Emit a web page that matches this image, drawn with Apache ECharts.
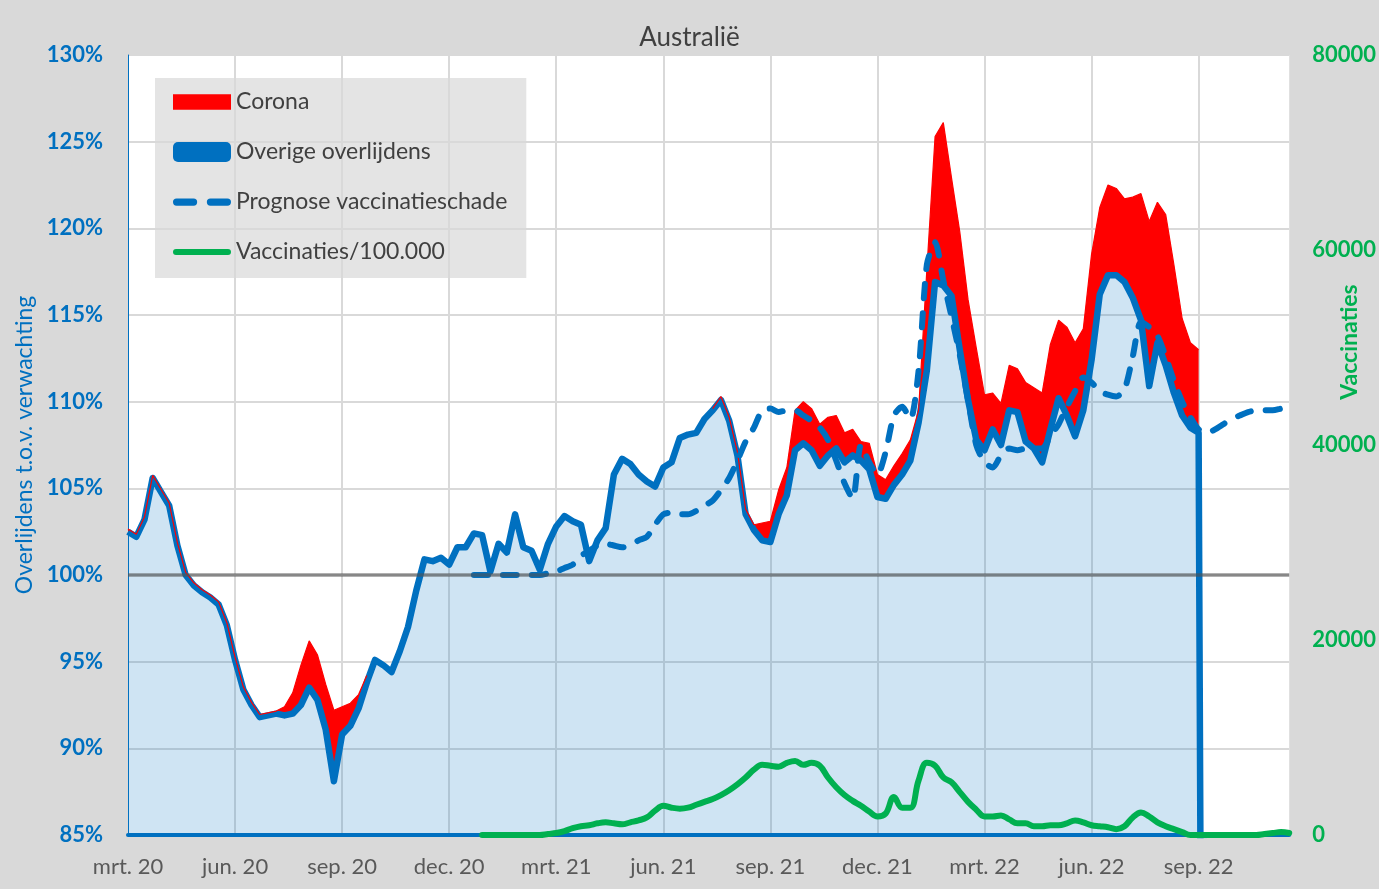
<!DOCTYPE html>
<html><head><meta charset="utf-8">
<script src="https://cdn.jsdelivr.net/npm/echarts@6/dist/echarts.min.js"></script>
<style>html,body{margin:0;padding:0;background:#d9d9d9}#c{width:1379px;height:889px}</style>
</head><body><div id="c"></div>
<script>
// X tick labels (one every 13 weeks, starting at week 0 = begin maart 2020)
const tickLabels = ['mrt. 20','jun. 20','sep. 20','dec. 20','mrt. 21','jun. 21','sep. 21','dec. 21','mrt. 22','jun. 22','sep. 22'];
const nWeeks = 142;
const weeks = Array.from({length: nWeeks}, (_, i) => 'week ' + i);

// Overige overlijdens (% t.o.v. verwachting), weekly from week 0
const overigeStart = 0;
const overige = [
 102.5,102.2,103.2,105.6,104.8,104.0,101.7,100.0,99.4,99.0,
 98.7,98.3,97.1,95.1,93.4,92.5,91.8,91.9,92.0,91.9,
 92.0,92.5,93.5,92.8,91.1,88.1,90.8,91.3,92.3,93.8,
 95.1,94.8,94.4,95.6,97.0,99.1,100.9,100.8,101.0,100.6,
 101.6,101.6,102.4,102.3,100.2,101.8,101.3,103.5,101.6,101.4,
 100.3,101.8,102.8,103.4,103.1,102.9,100.8,102.0,102.7,105.8,
 106.7,106.4,105.8,105.4,105.1,106.2,106.5,107.9,108.1,108.2,
 109.0,109.5,110.1,108.9,106.9,103.5,102.6,102.0,101.9,103.5,
 104.6,107.2,107.6,107.2,106.3,106.9,107.3,106.5,106.9,106.6,
 106.1,104.5,104.4,105.2,105.8,106.6,108.8,111.8,116.9,116.7,
 116.1,113.0,110.1,107.8,107.2,108.4,107.5,109.5,109.4,107.7,
 107.3,106.5,108.4,110.2,109.2,108.0,109.5,112.4,116.2,117.3,
 117.3,116.9,116.0,114.7,110.9,113.4,112.1,110.5,109.2,108.5,
 108.2,0
];

// Totaal (overige + corona), weekly from week 0
const totaal = [
 102.65,102.35,103.35,105.75,104.95,104.15,101.85,100.15,99.55,99.15,
 98.85,98.45,97.25,95.25,93.55,92.65,91.95,92.05,92.15,92.4,
 93.2,94.8,96.2,95.4,93.7,92.2,92.4,92.6,93.1,94.2,
 95.1,94.8,94.4,95.6,97.0,99.1,100.9,100.8,101.0,100.6,
 101.6,101.6,102.4,102.3,100.2,101.8,101.3,103.5,101.6,101.4,
 100.3,101.8,102.8,103.4,103.1,102.9,100.8,102.0,102.7,105.8,
 106.7,106.4,105.8,105.4,105.1,106.2,106.5,107.9,108.1,108.2,
 109.0,109.6,110.3,109.1,107.1,103.8,102.9,103.0,103.1,104.9,
 106.2,109.5,110.0,109.6,108.7,109.1,109.2,108.2,108.4,107.7,
 107.6,105.8,105.5,106.3,107.0,107.8,109.5,117.6,125.3,126.1,
 122.9,119.8,115.9,113.1,110.4,110.5,109.9,112.1,111.9,111.1,
 110.8,110.5,113.3,114.7,114.3,113.4,114.2,118.5,121.2,122.5,
 122.3,121.7,121.8,122.0,120.4,121.5,120.8,117.9,114.8,113.4,
 113.0
];

// Prognose vaccinatieschade, weekly from week 42
const prognoseStart = 42;
const prognose = [
 100.0,100.0,100.0,100.0,100.0,100.0,100.0,100.0,100.0,100.1,
 100.2,100.4,100.6,101.1,101.4,101.7,101.8,101.7,101.6,101.7,
 102.0,102.2,102.9,103.5,103.6,103.5,103.5,103.7,104.0,104.3,
 104.9,105.6,106.6,107.7,108.5,109.5,109.6,109.4,109.5,109.5,
 109.2,108.9,108.5,107.8,106.6,105.3,104.4,107.5,106.5,105.8,
 107.1,109.2,109.7,109.0,111.8,117.9,119.2,117.0,114.9,112.7,
 110.1,107.5,106.5,106.2,106.9,107.3,107.2,107.3,107.3,107.3,
 108.0,108.7,109.7,110.6,111.4,111.1,110.6,110.4,110.3,110.7,
 112.6,114.6,114.3,113.8,112.6,111.2,110.0,109.1,108.4,108.2,
 108.4,108.7,109.0,109.2,109.4,109.5,109.5,109.5,109.6,109.7
];

// Vaccinaties (right axis), weekly from week 43
const vaccStart = 43;
const vacc = [
 0,0,0,0,0,0,0,0,100,200,
 400,700,900,1000,1200,1300,1200,1100,1300,1500,
 1800,2500,3000,2800,2700,2800,3100,3400,3700,4100,
 4600,5200,5900,6700,7200,7100,7000,7400,7600,7200,
 7400,7100,5900,4900,4100,3500,3000,2400,1900,2200,
 3900,2800,2800,5600,7400,7100,5900,5400,4400,3400,
 2600,1900,1900,2000,1600,1200,1200,900,900,1000,
 1000,1200,1500,1300,1000,900,800,600,900,1800,
 2300,1900,1300,900,600,300,0,0,0,0,
 0,0,0,0,0,100,200,300,200
];

const FONT = 'Lato, "Noto Sans", sans-serif';
const pad = (arr, start) => Array(start).fill('-').concat(arr);
const coronaExtra = totaal.map((v, i) => +(v - overige[i]).toFixed(2));
const coronaEdge = totaal.map((v, i) => (v - overige[i] > 0.01 ? v : '-'));

const ICON_CORONA = 'path://M0,0 H52 V14 H0 Z';
const ICON_DASH = 'path://M3,0 H17 A3,3 0 0 1 17,6 H3 A3,3 0 0 1 3,0 Z M31,0 H45 A3,3 0 0 1 45,6 H31 A3,3 0 0 1 31,0 Z';
const ICON_GREEN = 'path://M3,0 H55 A3,3 0 0 1 55,6 H3 A3,3 0 0 1 3,0 Z';

const chart = echarts.init(document.getElementById('c'), null, {renderer: 'canvas'});
chart.setOption({
  backgroundColor: '#d9d9d9',
  animation: false,
  textStyle: {fontFamily: FONT},
  title: {
    text: 'Australië', left: 'center', top: 20,
    textStyle: {fontSize: 26, fontWeight: 'normal', color: '#404040', fontFamily: FONT}
  },
  grid: {left: 128, right: 89, top: 55, bottom: 54, show: true, backgroundColor: '#ffffff', borderWidth: 0},
  legend: {
    orient: 'vertical', left: 155, top: 78,
    padding: [11, 19, 13, 18], itemGap: 24, itemWidth: 58, itemHeight: 20,
    symbolKeepAspect: true,
    backgroundColor: 'rgba(217,217,217,0.7)', borderWidth: 0,
    textStyle: {fontSize: 23, color: '#404040', fontFamily: FONT, lineHeight: 26},
    data: [
      {name: 'Corona', icon: ICON_CORONA, itemStyle: {color: '#ff0000'}},
      {name: 'Overige overlijdens', icon: 'roundRect', itemStyle: {color: '#0070C0'}},
      {name: 'Prognose vaccinatieschade', icon: ICON_DASH, itemStyle: {color: '#0070C0'}},
      {name: 'Vaccinaties/100.000', icon: ICON_GREEN, itemStyle: {color: '#00B050'}}
    ]
  },
  xAxis: {
    type: 'category', data: weeks, boundaryGap: false,
    axisLine: {show: true, lineStyle: {color: '#0070C0', width: 4}},
    axisTick: {show: false},
    splitLine: {show: true, interval: 12, lineStyle: {color: '#d9d9d9', width: 2}},
    axisLabel: {
      color: '#595959', fontSize: 22, margin: 21, fontFamily: FONT, interval: 12,
      formatter: (v, idx) => tickLabels[idx / 13] || ''
    }
  },
  yAxis: [
    {
      type: 'value', min: 85, max: 130, interval: 5, position: 'left',
      axisLine: {show: true, lineStyle: {color: '#0070C0', width: 1}},
      axisTick: {show: false},
      splitLine: {show: true, lineStyle: {color: '#d9d9d9', width: 2}},
      axisLabel: {formatter: '{value}%', color: '#0070C0', fontWeight: 'bold', fontSize: 22, margin: 25, fontFamily: FONT},
      name: 'Overlijdens t.o.v. verwachting', nameLocation: 'middle', nameGap: 82,
      nameTextStyle: {color: '#0070C0', fontSize: 23, fontFamily: FONT}
    },
    {
      type: 'value', min: 0, max: 80000, interval: 20000, position: 'right',
      axisLine: {show: false}, axisTick: {show: false}, splitLine: {show: false},
      axisLabel: {color: '#00B050', fontWeight: 'bold', fontSize: 22, margin: 23, fontFamily: FONT,
        formatter: v => String(v)}
    }
  ],
  graphic: [{
    type: 'text', x: 1350, y: 342, rotation: Math.PI / 2,
    style: {text: 'Vaccinaties', fill: '#00B050', font: 'bold 23px Lato', textAlign: 'center', textVerticalAlign: 'middle'}
  }],
  series: [
    {
      name: 'base', type: 'line', stack: 't', data: pad(overige, overigeStart),
      symbol: 'none', lineStyle: {width: 0, opacity: 0}, silent: true, z: 1,
      markLine: {
        silent: true, symbol: 'none', label: {show: false},
        lineStyle: {color: 'rgba(80,80,80,0.6)', width: 3.5, type: 'solid'},
        data: [{yAxis: 100}]
      }
    },
    {
      name: 'Corona', type: 'line', stack: 't', data: pad(coronaExtra, overigeStart),
      symbol: 'none', lineStyle: {width: 0, color: '#ff0000'}, itemStyle: {color: '#ff0000'},
      areaStyle: {color: '#ff0000', opacity: 1}, z: 2
    },
    {
      name: 'Overige overlijdens', type: 'line', data: pad(overige, overigeStart),
      symbol: 'none', itemStyle: {color: '#0070C0'},
      lineStyle: {color: '#0070C0', width: 6.5, join: 'round'},
      areaStyle: {color: 'rgba(0,112,192,0.19)', opacity: 1}, z: 3
    },
    {
      name: 'coronaRand', type: 'line', data: pad(coronaEdge, overigeStart),
      symbol: 'none', silent: true, connectNulls: false,
      lineStyle: {color: '#ff0000', width: 1.2}, z: 3.5
    },
    {
      name: 'Prognose vaccinatieschade', type: 'line', data: pad(prognose, prognoseStart),
      symbol: 'none', smooth: 0.25, itemStyle: {color: '#0070C0'},
      lineStyle: {color: '#0070C0', width: 6, type: [14, 15], cap: 'round'}, z: 4
    },
    {
      name: 'Vaccinaties/100.000', type: 'line', yAxisIndex: 1, data: pad(vacc, vaccStart),
      symbol: 'none', smooth: 0.4, itemStyle: {color: '#00B050'},
      lineStyle: {color: '#00B050', width: 6, cap: 'round'}, z: 5
    }
  ]
});
</script>
</body></html>
